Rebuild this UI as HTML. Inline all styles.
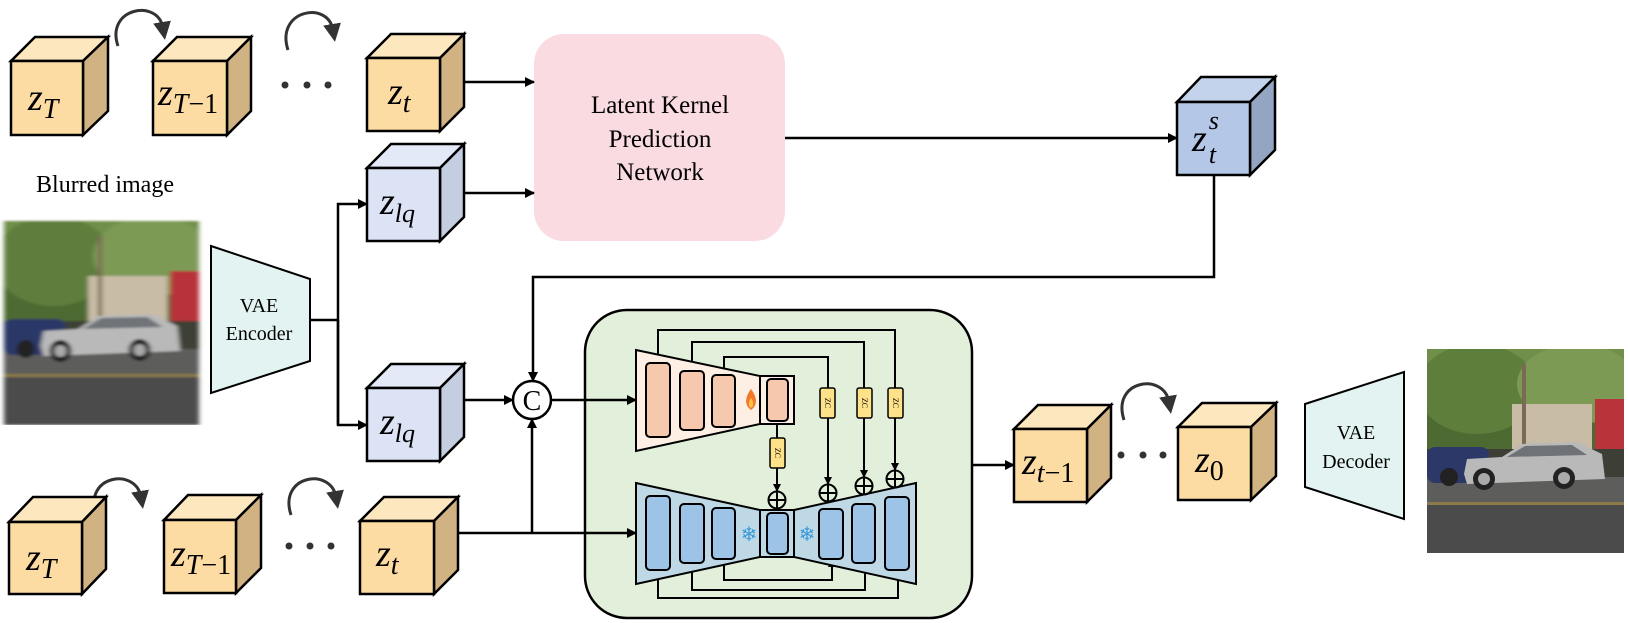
<!DOCTYPE html>
<html><head><meta charset="utf-8"><style>
html,body{margin:0;padding:0;background:#fff;}
svg{display:block;}
text{font-family:"Liberation Serif",serif;}
</style></head><body>
<svg width="1628" height="623" viewBox="0 0 1628 623" xmlns="http://www.w3.org/2000/svg">
<defs>
<marker id="ah" markerWidth="10" markerHeight="10" refX="9" refY="5" orient="auto" markerUnits="userSpaceOnUse">
<path d="M0,0 L10,5 L0,10 z" fill="#000"/></marker>
<marker id="as" markerWidth="8" markerHeight="8" refX="7" refY="4" orient="auto" markerUnits="userSpaceOnUse">
<path d="M0,0 L8,4 L0,8 z" fill="#000"/></marker>
<marker id="cg" markerWidth="18" markerHeight="18" refX="6" refY="9" orient="auto" markerUnits="userSpaceOnUse">
<path d="M0,0 L18,9 L0,18 z" fill="#333"/></marker>
<filter id="bl" x="0" y="0" width="1" height="1"><feGaussianBlur stdDeviation="2.5 1"/></filter>
<clipPath id="pc"><rect x="0" y="0" width="197" height="204"/></clipPath>
<g id="photo" clip-path="url(#pc)">
<rect x="0" y="0" width="197" height="204" fill="#4d6a33"/>
<rect x="0" y="0" width="197" height="60" fill="#6f8f4a"/>
<ellipse cx="50" cy="40" rx="60" ry="45" fill="#5e7e3c"/>
<ellipse cx="150" cy="35" rx="60" ry="40" fill="#7d9a55"/>
<rect x="85" y="55" width="80" height="45" fill="#c9bca6"/>
<rect x="168" y="50" width="29" height="60" fill="#b8333a"/>
<rect x="95" y="15" width="4" height="80" fill="#7a6a55"/>
<rect x="0" y="100" width="197" height="30" fill="#3d3f36"/>
<rect x="0" y="128" width="197" height="76" fill="#4b4b4b"/>
<rect x="0" y="128" width="197" height="25" fill="#5d5d5b"/>
<rect x="0" y="153" width="197" height="3" fill="#8c7a4a"/>
<rect x="0" y="98" width="62" height="36" rx="8" fill="#2c3868"/>
<path d="M37,125 L40,110 L75,108 L95,95 L150,93 L175,105 L178,130 L40,135 z" fill="#b9b9b9"/>
<path d="M80,108 L98,97 L145,96 L160,106 z" fill="#6f7378"/>
<circle cx="57" cy="130" r="11" fill="#222"/><circle cx="57" cy="130" r="6" fill="#aaa"/>
<circle cx="137" cy="129" r="11" fill="#222"/><circle cx="137" cy="129" r="6" fill="#aaa"/>
<circle cx="22" cy="128" r="9" fill="#222"/>
</g>
</defs>

<!-- photos -->
<g transform="translate(4,221) scale(0.99,1)"><g filter="url(#bl)"><use href="#photo"/></g></g>
<g transform="translate(1427,349)"><use href="#photo"/></g>

<text x="105" y="192" font-size="24" text-anchor="middle">Blurred image</text>

<!-- VAE encoder -->
<polygon points="211,246 310,279 310,361 211,393" fill="#e2f3f1" stroke="#000" stroke-width="2"/>
<text x="259" y="312" font-size="20" text-anchor="middle">VAE</text>
<text x="259" y="340" font-size="20" text-anchor="middle">Encoder</text>
<!-- VAE decoder -->
<polygon points="1305,404 1404,372 1404,519 1305,487" fill="#e2f3f1" stroke="#000" stroke-width="2"/>
<text x="1356" y="439" font-size="20" text-anchor="middle">VAE</text>
<text x="1356" y="468" font-size="20" text-anchor="middle">Decoder</text>

<!-- kernel net -->
<rect x="534" y="34" width="251" height="207" rx="30" ry="30" fill="#f9dbe1"/>
<text x="660" y="113" font-size="25" text-anchor="middle">Latent Kernel</text>
<text x="660" y="147" font-size="25" text-anchor="middle">Prediction</text>
<text x="660" y="180" font-size="25" text-anchor="middle">Network</text>

<!-- green box -->
<rect x="585" y="310" width="387" height="308" rx="42" ry="42" fill="#e2efda" stroke="#000" stroke-width="2.5"/>

<!-- connectors -->
<g stroke="#000" stroke-width="2.5" fill="none">
<line x1="310" y1="320" x2="338" y2="320"/>
<polyline points="338,425 338,204 367,204" marker-end="url(#ah)"/>
<polyline points="338,320 338,425 367,425" marker-end="url(#ah)"/>
<line x1="464" y1="82" x2="534" y2="82" marker-end="url(#ah)"/>
<line x1="464" y1="193" x2="534" y2="193" marker-end="url(#ah)"/>
<line x1="785" y1="138" x2="1177" y2="138" marker-end="url(#ah)"/>
<polyline points="1214,175 1214,277 533,277 533,381" marker-end="url(#ah)"/>
<line x1="464" y1="400" x2="513" y2="400" marker-end="url(#ah)"/>
<line x1="458" y1="533" x2="636" y2="533" marker-end="url(#ah)"/>
<line x1="532" y1="533" x2="532" y2="419" marker-end="url(#ah)"/>
<line x1="551" y1="400" x2="636" y2="400" marker-end="url(#ah)"/>
<line x1="972" y1="465" x2="1014" y2="465" marker-end="url(#ah)"/>
</g>
<circle cx="532" cy="400" r="19" fill="#fff" stroke="#000" stroke-width="2.5"/>
<text x="532" y="410" font-size="28" text-anchor="middle">C</text>

<!-- skip lines -->
<g stroke="#000" stroke-width="2" fill="none">
<polyline points="658,363 658,330 895,330 895,388"/>
<polyline points="692,371 692,342 864,342 864,388"/>
<polyline points="724,375 724,357 828,357 828,388"/>
<line x1="895" y1="418" x2="895" y2="470" marker-end="url(#as)"/>
<line x1="864" y1="418" x2="864" y2="477" marker-end="url(#as)"/>
<line x1="828" y1="418" x2="828" y2="484" marker-end="url(#as)"/>
<line x1="777" y1="421" x2="777" y2="438"/>
<line x1="777" y1="468" x2="777" y2="491" marker-end="url(#as)"/>
<polyline points="658,570 658,598 898,598 898,571" marker-end="url(#as)"/>
<polyline points="692,563 692,590 865,590 865,564" marker-end="url(#as)"/>
<polyline points="724,559 724,580 832,580 832,560" marker-end="url(#as)"/>
</g>
<!-- encoder -->
<polygon points="636,350 760,376 760,424 636,451" fill="#fdefe4" stroke="#000" stroke-width="2"/>
<rect x="760" y="376" width="34" height="48" fill="#fdefe4" stroke="#000" stroke-width="2"/>
<g fill="#f6c8ad" stroke="#000" stroke-width="2">
<rect x="646" y="363" width="24" height="74" rx="4"/>
<rect x="680" y="371" width="24" height="59" rx="4"/>
<rect x="712" y="375" width="23" height="52" rx="4"/>
<rect x="767" y="379" width="21" height="42" rx="4"/>
</g>
<path d="M751,389 C745,397 744,405 751,410 C758,405 757,397 751,389 z" fill="#f07a2a"/>
<path d="M751,398 C748,402 748,406 751,408 C754,406 754,402 751,398 z" fill="#f9c04a"/>
<!-- decoder unet -->
<polygon points="636,483 760,510 760,557 636,584" fill="#bfd8e6" stroke="#000" stroke-width="2"/>
<rect x="760" y="510" width="34" height="47" fill="#bfd8e6" stroke="#000" stroke-width="2"/>
<polygon points="794,510 916,483 916,584 794,557" fill="#bfd8e6" stroke="#000" stroke-width="2"/>
<g fill="#9dc3e6" stroke="#000" stroke-width="2">
<rect x="646" y="496" width="24" height="74" rx="4"/>
<rect x="680" y="504" width="24" height="59" rx="4"/>
<rect x="712" y="508" width="23" height="51" rx="4"/>
<rect x="767" y="513" width="21" height="41" rx="4"/>
<rect x="819" y="509" width="24" height="50" rx="4"/>
<rect x="852" y="504" width="23" height="59" rx="4"/>
<rect x="885" y="497" width="24" height="73" rx="4"/>
</g>
<text x="749" y="541" font-size="20" fill="#3a9ad9" text-anchor="middle" font-family="DejaVu Sans">❄</text>
<text x="807" y="541" font-size="20" fill="#3a9ad9" text-anchor="middle" font-family="DejaVu Sans">❄</text>
<!-- zc boxes -->
<g fill="#fde28a" stroke="#000" stroke-width="1.5">
<rect x="820" y="388" width="15" height="30" rx="2"/>
<rect x="857" y="388" width="15" height="30" rx="2"/>
<rect x="888" y="388" width="15" height="30" rx="2"/>
<rect x="770" y="438" width="15" height="30" rx="2"/>
</g>
<g font-size="8" font-family="Liberation Sans,sans-serif">
<text transform="translate(825,403) rotate(90)" text-anchor="middle">ZC</text>
<text transform="translate(862,403) rotate(90)" text-anchor="middle">ZC</text>
<text transform="translate(893,403) rotate(90)" text-anchor="middle">ZC</text>
<text transform="translate(775,453) rotate(90)" text-anchor="middle">ZC</text>
</g>
<!-- plus circles -->
<g fill="none" stroke="#000" stroke-width="2">
<circle cx="777" cy="500" r="8.5"/><path d="M768.5,500 h17 M777,491.5 v17"/>
<circle cx="828" cy="493" r="8.5"/><path d="M819.5,493 h17 M828,484.5 v17"/>
<circle cx="864" cy="486" r="8.5"/><path d="M855.5,486 h17 M864,477.5 v17"/>
<circle cx="895" cy="479" r="8.5"/><path d="M886.5,479 h17 M895,470.5 v17"/>
</g>

<!-- curved arrows -->
<g stroke="#333" stroke-width="3" fill="none">
<path d="M118,46 C105,8 158,-2 163,28" marker-end="url(#cg)"/>
<path d="M288,50 C275,10 328,0 333,30" marker-end="url(#cg)"/>
<path d="M96,515 C83,475 136,467 141,497" marker-end="url(#cg)"/>
<path d="M291,515 C278,475 331,467 336,497" marker-end="url(#cg)"/>
<path d="M1124,420 C1111,380 1164,372 1169,402" marker-end="url(#cg)"/>
</g>
<!-- dots -->
<g fill="#333">
<circle cx="285" cy="85" r="3.5"/><circle cx="307" cy="85" r="3.5"/><circle cx="328" cy="85" r="3.5"/>
<circle cx="289" cy="546" r="3.5"/><circle cx="310" cy="546" r="3.5"/><circle cx="331" cy="546" r="3.5"/>
<circle cx="1121" cy="455" r="3.5"/><circle cx="1143" cy="455" r="3.5"/><circle cx="1163" cy="455" r="3.5"/>
</g>

<!-- cubes -->
<g stroke="#000" stroke-width="2.5" stroke-linejoin="miter">
<g><polygon points="11,61 35,37 108,37 83,61" fill="#fde7bf"/><polygon points="83,61 108,37 108,111 83,135" fill="#d1b282"/><rect x="11" y="61" width="72" height="74" fill="#fddca3"/></g>
<g><polygon points="153,61 177,37 251,37 227,61" fill="#fde7bf"/><polygon points="227,61 251,37 251,111 227,135" fill="#d1b282"/><rect x="153" y="61" width="74" height="74" fill="#fddca3"/></g>
<g><polygon points="367,58 391,34 464,34 440,58" fill="#fde7bf"/><polygon points="440,58 464,34 464,107 440,131" fill="#d1b282"/><rect x="367" y="58" width="73" height="73" fill="#fddca3"/></g>
<g><polygon points="367,168 391,144 464,144 440,168" fill="#e3e9f6"/><polygon points="440,168 464,144 464,217 440,241" fill="#c5cde0"/><rect x="367" y="168" width="73" height="73" fill="#dbe3f4"/></g>
<g><polygon points="367,388 391,364 464,364 440,388" fill="#e3e9f6"/><polygon points="440,388 464,364 464,437 440,461" fill="#c5cde0"/><rect x="367" y="388" width="73" height="73" fill="#dbe3f4"/></g>
<g><polygon points="1177,102 1201,77 1275,77 1250,102" fill="#c4d3ec"/><polygon points="1250,102 1275,77 1275,150 1250,175" fill="#94a5c3"/><rect x="1177" y="102" width="73" height="73" fill="#b4c7e7"/></g>
<g><polygon points="9,522 33,497 106,497 82,522" fill="#fde7bf"/><polygon points="82,522 106,497 106,569 82,594" fill="#d1b282"/><rect x="9" y="522" width="73" height="72" fill="#fddca3"/></g>
<g><polygon points="164,520 188,495 261,495 236,520" fill="#fde7bf"/><polygon points="236,520 261,495 261,568 236,593" fill="#d1b282"/><rect x="164" y="520" width="72" height="73" fill="#fddca3"/></g>
<g><polygon points="360,521 384,497 458,497 434,521" fill="#fde7bf"/><polygon points="434,521 458,497 458,570 434,594" fill="#d1b282"/><rect x="360" y="521" width="74" height="73" fill="#fddca3"/></g>
<g><polygon points="1014,429 1038,405 1111,405 1087,429" fill="#fde7bf"/><polygon points="1087,429 1111,405 1111,478 1087,502" fill="#d1b282"/><rect x="1014" y="429" width="73" height="73" fill="#fddca3"/></g>
<g><polygon points="1178,427 1202,403 1276,403 1251,427" fill="#fde7bf"/><polygon points="1251,427 1276,403 1276,476 1251,500" fill="#d1b282"/><rect x="1178" y="427" width="73" height="73" fill="#fddca3"/></g>
</g>

<!-- cube labels -->
<g font-style="italic">
<text x="28" y="110" font-size="38">z<tspan font-size="28" dy="8">T</tspan></text>
<text x="158" y="105" font-size="38">z<tspan font-size="28" dy="8">T</tspan><tspan font-style="normal" font-size="28">−1</tspan></text>
<text x="388" y="104" font-size="38">z<tspan font-size="28" dy="8">t</tspan></text>
<text x="380" y="214" font-size="38">z<tspan font-size="26" dy="8">lq</tspan></text>
<text x="380" y="434" font-size="38">z<tspan font-size="26" dy="8">lq</tspan></text>
<text x="1192" y="151" font-size="38">z<tspan font-size="26" dx="2" dy="-22">s</tspan><tspan font-size="26" dx="-10" dy="34">t</tspan></text>
<text x="26" y="570" font-size="38">z<tspan font-size="28" dy="8">T</tspan></text>
<text x="171" y="566" font-size="38">z<tspan font-size="28" dy="8">T</tspan><tspan font-style="normal" font-size="28">−1</tspan></text>
<text x="376" y="566" font-size="38">z<tspan font-size="28" dy="8">t</tspan></text>
<text x="1022" y="474" font-size="38">z<tspan font-size="28" dy="8">t</tspan><tspan font-style="normal" font-size="28">−1</tspan></text>
<text x="1195" y="472" font-size="38">z<tspan font-style="normal" font-size="28" dy="8">0</tspan></text>
</g>
</svg>
</body></html>
